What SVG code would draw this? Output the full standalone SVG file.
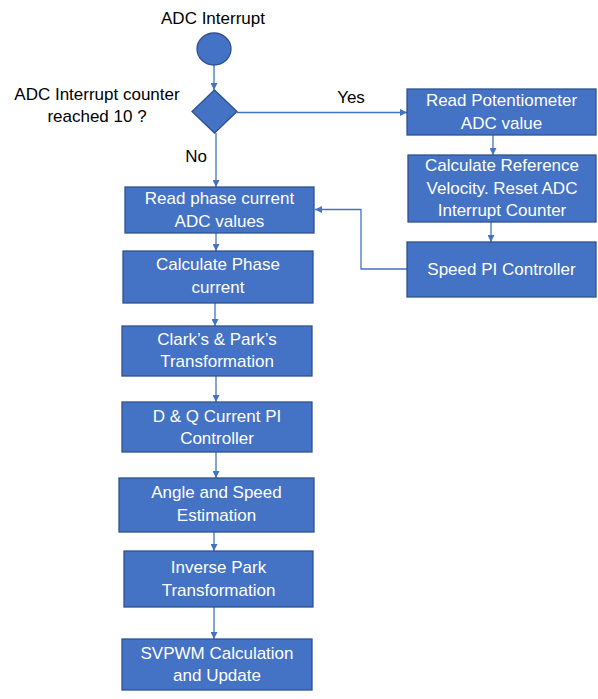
<svg xmlns="http://www.w3.org/2000/svg" width="598" height="699" viewBox="0 0 598 699">
<defs>
<style>
.box{fill:#4472C4;stroke:#2F528F;stroke-width:1.3}
.t{font-family:"Liberation Sans",Arial,sans-serif;font-size:17px;fill:#fff;text-anchor:middle}
.k{font-family:"Liberation Sans",Arial,sans-serif;font-size:17px;fill:#000;text-anchor:middle}
.c{fill:none;stroke:#4472C4;stroke-width:1.3;marker-end:url(#ah)}
</style>
<marker id="ah" viewBox="0 0 10 10" refX="10" refY="5" markerWidth="7" markerHeight="7" markerUnits="userSpaceOnUse" orient="auto">
<path d="M0,0 L10,5 L0,10 z" fill="#4472C4"/>
</marker>
</defs>
<rect width="598" height="699" fill="#fff"/>
<g id="connectors">
<path class="c" d="M214,65 V90"/>
<path class="c" d="M237,112.5 H407"/>
<path class="c" d="M216,133 V187"/>
<path class="c" d="M493,135 V155"/>
<path class="c" d="M491,222 V242"/>
<path class="c" d="M407,269 H361 V209.5 H315"/>
<path class="c" d="M216,233 V251"/>
<path class="c" d="M215,303 V326"/>
<path class="c" d="M216,376 V402"/>
<path class="c" d="M216,452 V478"/>
<path class="c" d="M214,532 V551"/>
<path class="c" d="M214,607 V639"/>
</g>
<g id="labels">
<text class="k" x="351" y="103">Yes</text>
<text class="k" x="196" y="162">No</text>
</g>
<g id="start">
<text class="k" x="213" y="24">ADC Interrupt</text>
<ellipse class="box" cx="214" cy="49" rx="17" ry="16"/>
</g>
<g id="decision">
<path class="box" d="M214.5,90 L237,111.5 L214.5,133 L192,111.5 z"/>
<text class="k" x="97" y="100">ADC Interrupt counter</text>
<text class="k" x="97" y="122">reached 10 ?</text>
</g>
<g id="readPot">
<rect class="box" x="407" y="89" width="189" height="46"/>
<text class="t" x="501.5" y="106">Read Potentiometer</text>
<text class="t" x="501.5" y="129">ADC value</text>
</g>
<g id="calcRef">
<rect class="box" x="408" y="155" width="188" height="67"/>
<text class="t" x="502" y="171">Calculate Reference</text>
<text class="t" x="502" y="194">Velocity. Reset ADC</text>
<text class="t" x="502" y="216">Interrupt Counter</text>
</g>
<g id="speedPI">
<rect class="box" x="407" y="242" width="189" height="55"/>
<text class="t" x="501.5" y="275">Speed PI Controller</text>
</g>
<g id="readPhase">
<rect class="box" x="125" y="187" width="189" height="46"/>
<text class="t" x="219.5" y="204">Read phase current</text>
<text class="t" x="219.5" y="227">ADC values</text>
</g>
<g id="calcPhase">
<rect class="box" x="123" y="251" width="190" height="52"/>
<text class="t" x="218" y="270">Calculate Phase</text>
<text class="t" x="218" y="293">current</text>
</g>
<g id="clark">
<rect class="box" x="122" y="326" width="190" height="50"/>
<text class="t" x="217" y="345">Clark’s &amp; Park’s</text>
<text class="t" x="217" y="367">Transformation</text>
</g>
<g id="dq">
<rect class="box" x="122" y="402" width="190" height="50"/>
<text class="t" x="217" y="422">D &amp; Q Current PI</text>
<text class="t" x="217" y="444">Controller</text>
</g>
<g id="angle">
<rect class="box" x="119" y="478" width="195" height="54"/>
<text class="t" x="216.5" y="498">Angle and Speed</text>
<text class="t" x="216.5" y="521">Estimation</text>
</g>
<g id="invPark">
<rect class="box" x="124" y="551" width="189" height="56"/>
<text class="t" x="218.5" y="573">Inverse Park</text>
<text class="t" x="218.5" y="596">Transformation</text>
</g>
<g id="svpwm">
<rect class="box" x="122" y="639" width="190" height="51"/>
<text class="t" x="217" y="659">SVPWM Calculation</text>
<text class="t" x="217" y="681">and Update</text>
</g>
</svg>
